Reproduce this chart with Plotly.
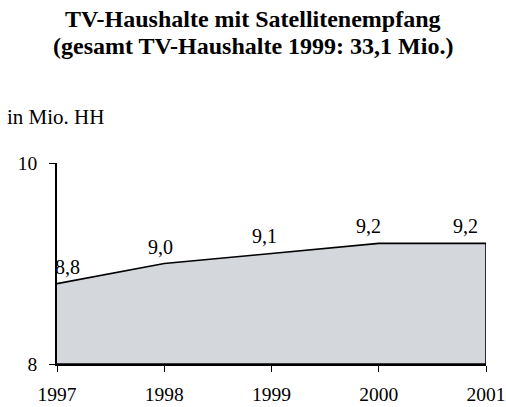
import plotly.graph_objects as go

# Satellite TV households, in millions
years = [1997, 1998, 1999, 2000, 2001]
households = [8.8, 9.0, 9.1, 9.2, 9.2]
value_labels = ["8,8", "9,0", "9,1", "9,2", "9,2"]
y_ticks = [8, 10]

title_lines = ["<b>TV-Haushalte mit Satellitenempfang</b>",
               "<b>(gesamt TV-Haushalte 1999: 33,1 Mio.)</b>"]
unit_text = "in Mio. HH"

SERIF = "Liberation Serif"
W, H = 506, 407
M_L, M_R, M_T, M_B = 57, 20, 163, 43
PLOT_W = W - M_L - M_R
PLOT_H = H - M_T - M_B


def px_to_paper_x(px):
    return (px - M_L) / PLOT_W


def px_to_paper_y(py):
    return (H - M_B - py) / PLOT_H


y_floor = y_ticks[0]

# closed polygon: data line, then down the right edge and back along the floor
poly_x = years + [years[-1], years[0]]
poly_y = households + [y_floor, y_floor]

fig = go.Figure()
fig.add_trace(go.Scatter(
    x=poly_x, y=poly_y,
    mode="lines",
    fill="toself",
    fillcolor="rgb(212,216,221)",
    line=dict(color="black", width=1.6),
    hoverinfo="skip",
    showlegend=False,
))

# value labels above each point
label_shift = [10, -4, -7, -10, -21]
for x, y, t, dx in zip(years, households, value_labels, label_shift):
    fig.add_annotation(
        x=x, y=y, text=t, showarrow=False,
        xanchor="center", yanchor="bottom",
        xshift=dx, yshift=4,
        font=dict(family=SERIF, size=20, color="black"),
    )

# two-line bold title
for line, cy in zip(title_lines, [19, 46]):
    fig.add_annotation(
        xref="paper", yref="paper", x=px_to_paper_x(W / 2), y=px_to_paper_y(cy),
        xanchor="center", yanchor="middle",
        text=line, showarrow=False,
        font=dict(family=SERIF, size=24, color="black"),
    )

fig.add_annotation(
    xref="paper", yref="paper", x=px_to_paper_x(5), y=px_to_paper_y(117),
    xanchor="left", yanchor="middle",
    text=unit_text, showarrow=False,
    font=dict(family=SERIF, size=21, color="black"),
)

fig.update_layout(
    width=W, height=H,
    margin=dict(l=M_L, r=M_R, t=M_T, b=M_B, autoexpand=False),
    paper_bgcolor="white",
    plot_bgcolor="white",
    font=dict(family=SERIF, color="black"),
    xaxis=dict(
        range=[years[0], years[-1]],
        tickmode="array", tickvals=years, ticktext=[str(y) for y in years],
        showgrid=False, zeroline=False, automargin=False,
        showline=True, linecolor="black", linewidth=2,
        ticks="outside", ticklen=6, tickwidth=1.2, tickcolor="black",
        ticklabelstandoff=6,
        tickfont=dict(family=SERIF, size=19.5, color="black"),
        fixedrange=True,
    ),
    yaxis=dict(
        range=[y_ticks[0], y_ticks[-1]],
        tickmode="array", tickvals=y_ticks, ticktext=[str(v) for v in y_ticks],
        showgrid=False, zeroline=False, automargin=False,
        showline=True, linecolor="black", linewidth=1.6,
        ticks="outside", ticklen=6, tickwidth=1.2, tickcolor="black",
        ticklabelstandoff=8,
        tickfont=dict(family=SERIF, size=19.5, color="black"),
        fixedrange=True,
    ),
)

fig.write_html("out.html")
